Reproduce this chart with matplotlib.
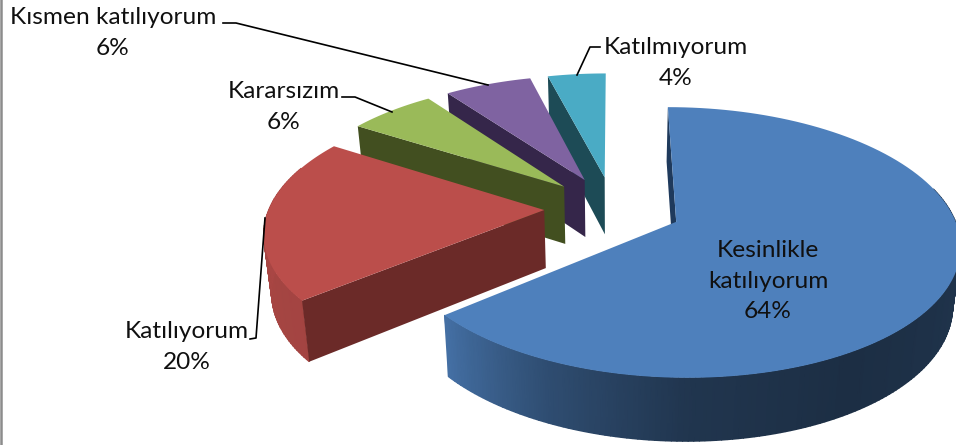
import numpy as np
import matplotlib
matplotlib.use("Agg")
import matplotlib.pyplot as plt
from matplotlib.colors import LinearSegmentedColormap

# dati del grafico
categories = ["Kesinlikle\nkatılıyorum", "Katılıyorum", "Kararsızım", "Kısmen katılıyorum", "Katılmıyorum"]
percents = [64, 20, 6, 6, 4]

# stile
top_colors = ["#4e80bc", "#bb4e4b", "#9aba59", "#7f63a1", "#4aabc5"]
side_colors = ["#1f3a5c", "#6b2a28", "#424f20", "#35264a", "#1d4b56"]
label_pos = [(768, 281), (187, 347), (284, 107), (113, 33), (676, 63)]
leaders = [None,
           [(250, 339), (256, 338), (265, 218)],
           [(342, 97), (355, 97), (392, 112)],
           [(223, 23), (236, 23), (488, 85)],
           [(600, 47), (590, 47), (577, 75)]]

# parametri della proiezione prospettica
cx, cy = 613, 208
A, B = 275, 128
k = 0.15
explode = 0.25
depth = 58
shrink = 0.023


def project(u, v, drop=False):
    w = 1 + k * v
    x = cx + A * u / w
    y = cy - B * v / w
    if drop:
        x = x - shrink * (x - cx)
        y = y + depth / np.sqrt(w)
    return x, y


def rim_shade(theta):
    return np.interp(theta, [90, 150, 180, 205, 230, 300], [0.42, 0.36, 0.42, 0.6, 0.87, 0.93])


fig = plt.figure(figsize=(9.56, 4.45), dpi=100)
ax = fig.add_axes([0, 0, 1, 1])

# angoli di ogni fetta, in senso orario partendo dall'alto
edges = np.concatenate([[0], np.cumsum(percents)]) * 3.6

# dalla fetta piu lontana alla piu vicina
for i in range(len(percents) - 1, -1, -1):
    t0, t1 = edges[i], edges[i + 1]
    mid = np.radians((t0 + t1) / 2)
    u0, v0 = explode * np.sin(mid), explode * np.cos(mid)

    # bordo esterno con sfumatura
    lo, hi = max(t0, 75), min(t1, 290)
    if hi > lo:
        deg = np.linspace(lo, hi, int(hi - lo) + 2)
        ang = np.radians(deg)
        xt, yt = project(u0 + np.sin(ang), v0 + np.cos(ang))
        xb, yb = project(u0 + np.sin(ang), v0 + np.cos(ang), drop=True)
        shade = rim_shade(deg)
        cmap = LinearSegmentedColormap.from_list("rim", ["black", top_colors[i]])
        ax.pcolormesh(np.vstack([xt, xb]), np.vstack([yt, yb]), np.vstack([shade, shade]),
                      shading="gouraud", cmap=cmap, vmin=0, vmax=1)

    # faccia radiale
    s = np.radians(t0)
    xa, ya = project(u0, v0)
    xa2, ya2 = project(u0, v0, drop=True)
    xr, yr = project(u0 + np.sin(s), v0 + np.cos(s))
    xr2, yr2 = project(u0 + np.sin(s), v0 + np.cos(s), drop=True)
    ax.fill([xa, xr, xr2, xa2], [ya, yr, yr2, ya2], color=side_colors[i], lw=0)

    # faccia superiore
    th = np.radians(np.linspace(t0, t1, 120))
    xs, ys = project(u0 + np.sin(th), v0 + np.cos(th))
    ax.fill(np.r_[xa, xs], np.r_[ya, ys], color=top_colors[i], lw=0)

# linee guida
for line in leaders:
    if line is not None:
        ax.plot([p[0] for p in line], [p[1] for p in line], color="black", lw=1.2)

# etichette
for name, pct, pos in zip(categories, percents, label_pos):
    ax.text(pos[0], pos[1], f"{name}\n{pct}%", ha="center", va="center",
            family="Lato", fontsize=17.6, color="#101010", linespacing=1.55)

# bordo sinistro
ax.plot([1, 1], [0, 445], color="#8c8c8c", lw=1.8)

ax.set_xlim(0, 956)
ax.set_ylim(445, 0)
ax.axis("off")

fig.savefig("out.png", dpi=100)
